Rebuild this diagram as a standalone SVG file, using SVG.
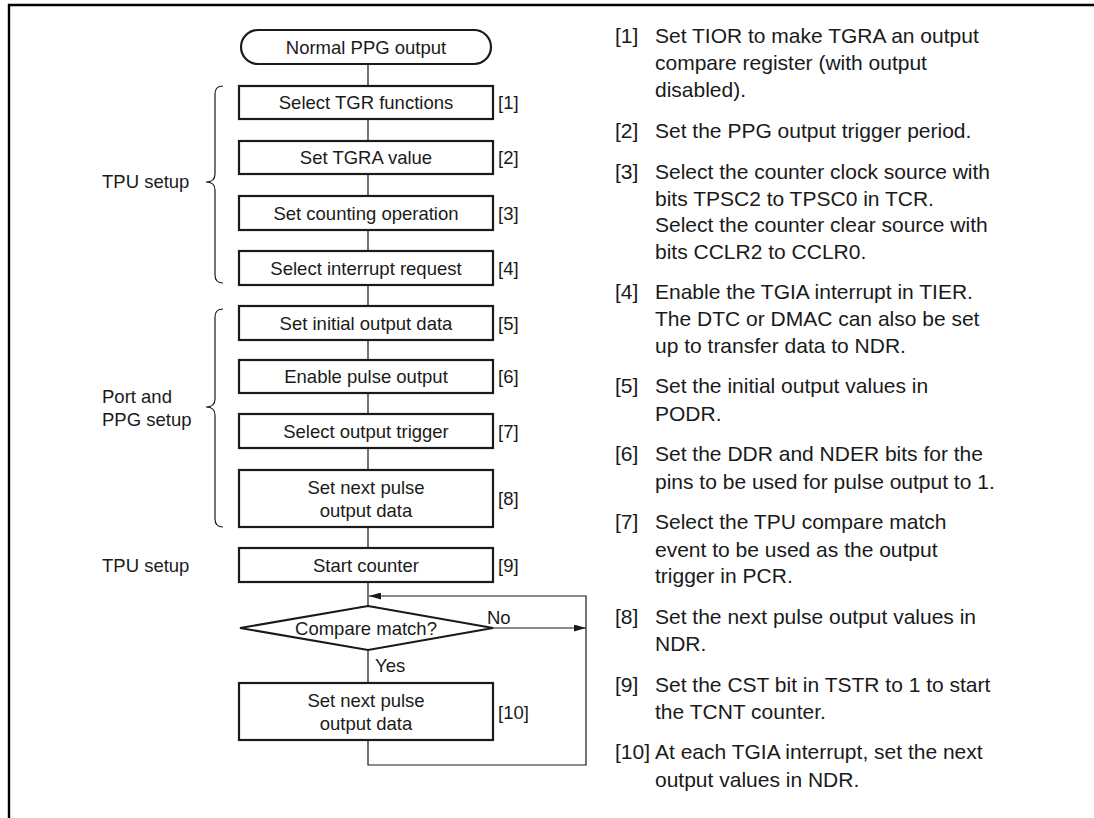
<svg xmlns="http://www.w3.org/2000/svg" width="1094" height="818" viewBox="0 0 1094 818">
<style>
text{font-family:"Liberation Sans",Arial,sans-serif;fill:#1a1a1a}
.f{font-size:18.5px}
.c{text-anchor:middle}
.r{font-size:21px}
.box{fill:#fff;stroke:#1a1a1a;stroke-width:2.2}
.ln{fill:none;stroke:#1a1a1a;stroke-width:1.2}
.br{fill:none;stroke:#1a1a1a;stroke-width:1.2}
</style>
<defs>
<marker id="ah" markerWidth="12" markerHeight="7" refX="12" refY="3.5" orient="auto" markerUnits="userSpaceOnUse">
<path d="M0,0 L12,3.5 L0,7 Z" fill="#1a1a1a"/>
</marker>
</defs>
<rect width="1094" height="818" fill="#fff"/>
<path d="M9,818 V5 H1094" fill="none" stroke="#000" stroke-width="2.4"/>

<g id="connectors">
<path class="ln" d="M368,64 V86 M368,119 V141 M368,174 V196 M368,230 V251 M368,285 V306 M368,340 V360 M368,393 V414 M368,448 V470 M368,527 V548 M368,582 V606 M368,650 V683"/>
<path class="ln" d="M368,740 V765 H586 V596 H369" marker-end="url(#ah)"/>
<path class="ln" d="M493,628 H586" marker-end="url(#ah)"/>
</g>

<g id="start">
<rect x="241" y="30" width="250" height="34" rx="17" class="box"/>
<text class="f c" x="366" y="53.6">Normal PPG output</text>
</g>
<g id="n1"><rect x="239" y="86" width="254" height="33" class="box"/><text class="f c" x="366" y="109.1">Select TGR functions</text><text class="f" x="498" y="109.1">[1]</text></g>
<g id="n2"><rect x="239" y="141" width="254" height="33" class="box"/><text class="f c" x="366" y="164.1">Set TGRA value</text><text class="f" x="498" y="164.1">[2]</text></g>
<g id="n3"><rect x="239" y="196" width="254" height="34" class="box"/><text class="f c" x="366" y="219.6">Set counting operation</text><text class="f" x="498" y="219.6">[3]</text></g>
<g id="n4"><rect x="239" y="251" width="254" height="34" class="box"/><text class="f c" x="366" y="274.6">Select interrupt request</text><text class="f" x="498" y="274.6">[4]</text></g>
<g id="n5"><rect x="239" y="306" width="254" height="34" class="box"/><text class="f c" x="366" y="329.6">Set initial output data</text><text class="f" x="498" y="329.6">[5]</text></g>
<g id="n6"><rect x="239" y="360" width="254" height="33" class="box"/><text class="f c" x="366" y="383.1">Enable pulse output</text><text class="f" x="498" y="383.1">[6]</text></g>
<g id="n7"><rect x="239" y="414" width="254" height="34" class="box"/><text class="f c" x="366" y="437.6">Select output trigger</text><text class="f" x="498" y="437.6">[7]</text></g>
<g id="n8"><rect x="239" y="470" width="254" height="57" class="box"/><text class="f c" x="366" y="493.6">Set next pulse</text><text class="f c" x="366" y="516.6">output data</text><text class="f" x="498" y="505.1">[8]</text></g>
<g id="n9"><rect x="239" y="548" width="254" height="34" class="box"/><text class="f c" x="366" y="571.6">Start counter</text><text class="f" x="498" y="571.6">[9]</text></g>
<g id="d1"><path d="M368,606 L493,628 L368,650 L240,628 Z" class="box"/><text class="f c" x="366" y="634.6">Compare match?</text><text class="f" x="487" y="624">No</text><text class="f" x="375" y="672.3">Yes</text></g>
<g id="n10"><rect x="239" y="683" width="254" height="57" class="box"/><text class="f c" x="366" y="706.6">Set next pulse</text><text class="f c" x="366" y="729.6">output data</text><text class="f" x="498" y="718.6">[10]</text></g>

<g id="group-labels">
<path class="br" d="M223,86 Q215,86 215,94 V174 Q215,182 206,182 Q215,182 215,190 V275 Q215,283 223,283"/>
<text class="f" x="102" y="188.3">TPU setup</text>
<path class="br" d="M223,309 Q215,309 215,317 V399 Q215,407 206,407 Q215,407 215,415 V519 Q215,527 223,527"/>
<text class="f" x="102" y="402.6">Port and</text>
<text class="f" x="102" y="425.6">PPG setup</text>
<text class="f" x="102" y="571.6">TPU setup</text>
</g>

<g id="notes" class="r">
<text class="r" x="615" y="42.5">[1]</text>
<text class="r" x="655" y="42.5">Set TIOR to make TGRA an output</text>
<text class="r" x="655" y="69.5">compare register (with output</text>
<text class="r" x="655" y="96.5">disabled).</text>
<text class="r" x="615" y="137.5">[2]</text>
<text class="r" x="655" y="137.5">Set the PPG output trigger period.</text>
<text class="r" x="615" y="179">[3]</text>
<text class="r" x="655" y="179">Select the counter clock source with</text>
<text class="r" x="655" y="205.5">bits TPSC2 to TPSC0 in TCR.</text>
<text class="r" x="655" y="232">Select the counter clear source with</text>
<text class="r" x="655" y="258.5">bits CCLR2 to CCLR0.</text>
<text class="r" x="615" y="299">[4]</text>
<text class="r" x="655" y="299">Enable the TGIA interrupt in TIER.</text>
<text class="r" x="655" y="326">The DTC or DMAC can also be set</text>
<text class="r" x="655" y="352.5">up to transfer data to NDR.</text>
<text class="r" x="615" y="392.5">[5]</text>
<text class="r" x="655" y="392.5">Set the initial output values in</text>
<text class="r" x="655" y="421">PODR.</text>
<text class="r" x="615" y="461">[6]</text>
<text class="r" x="655" y="461">Set the DDR and NDER bits for the</text>
<text class="r" x="655" y="488.5">pins to be used for pulse output to 1.</text>
<text class="r" x="615" y="529">[7]</text>
<text class="r" x="655" y="529">Select the TPU compare match</text>
<text class="r" x="655" y="556.5">event to be used as the output</text>
<text class="r" x="655" y="582.5">trigger in PCR.</text>
<text class="r" x="615" y="623.5">[8]</text>
<text class="r" x="655" y="623.5">Set the next pulse output values in</text>
<text class="r" x="655" y="651">NDR.</text>
<text class="r" x="615" y="691.5">[9]</text>
<text class="r" x="655" y="691.5">Set the CST bit in TSTR to 1 to start</text>
<text class="r" x="655" y="719">the TCNT counter.</text>
<text class="r" x="615" y="759">[10]</text>
<text class="r" x="655" y="759">At each TGIA interrupt, set the next</text>
<text class="r" x="655" y="787">output values in NDR.</text>
</g>
</svg>
